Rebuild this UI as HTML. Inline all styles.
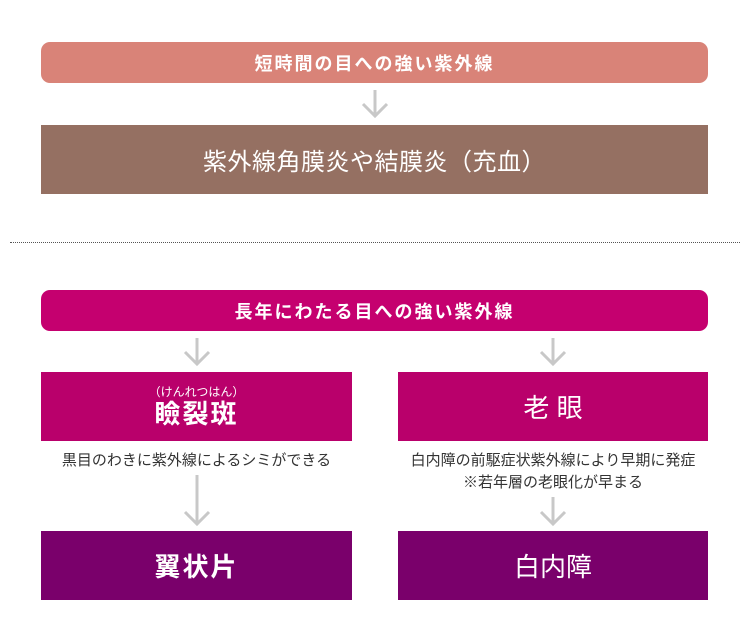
<!DOCTYPE html>
<html><head><meta charset="utf-8"><style>
body{margin:0;width:750px;height:632px;background:#fff;position:relative;overflow:hidden;font-family:"Liberation Sans","Noto Sans CJK JP",sans-serif;}
.b{position:absolute;color:#fff;display:flex;align-items:center;justify-content:center;font-weight:bold;}
.t{position:absolute;color:#333;font-size:15px;text-align:center;line-height:22px;}
svg{position:absolute;left:0;top:0}
</style></head><body>
<div class="b" style="left:41px;top:42px;width:667px;height:41px;background:#d98378;border-radius:9px;font-size:18px;letter-spacing:2px;">短時間の目への強い紫外線</div>
<div class="b" style="left:41px;top:125px;width:667px;height:69px;background:#957062;font-size:24px;font-weight:normal;letter-spacing:0.5px;">紫外線角膜炎や結膜炎（充血）</div>
<div style="position:absolute;left:10px;top:242px;width:730px;border-top:1px dotted #555;"></div>
<div class="b" style="left:41px;top:290px;width:667px;height:41px;background:#c5006f;border-radius:9px;font-size:18px;letter-spacing:2px;">長年にわたる目への強い紫外線</div>
<div class="b" style="left:41px;top:372px;width:311px;height:69px;background:#b9006b;flex-direction:column;">
<div style="font-size:12px;font-weight:normal;line-height:13px;margin-top:2px">（けんれつはん）</div><div style="font-size:26px;line-height:30px;letter-spacing:2px">瞼裂斑</div></div>
<div class="b" style="left:398px;top:372px;width:310px;height:69px;background:#b9006b;font-size:26px;font-weight:normal;">老&nbsp;眼</div>
<div class="t" style="left:41px;top:450px;width:311px;">黒目のわきに紫外線によるシミができる</div>
<div class="t" style="left:398px;top:450px;width:310px;">白内障の前駆症状紫外線により早期に発症<br>※若年層の老眼化が早まる</div>
<div class="b" style="left:41px;top:531px;width:311px;height:69px;background:#7a006b;font-size:26px;letter-spacing:2px;">翼状片</div>
<div class="b" style="left:398px;top:531px;width:310px;height:69px;background:#7a006b;font-size:26px;font-weight:normal;">白内障</div>
<svg width="750" height="632" fill="none" stroke="#c8c8c8" stroke-width="3">
<path d="M375 90V116M363 104L375 116L387 104"/>
<path d="M197 338V364M185 352L197 364L209 352"/>
<path d="M553 338V364M541 352L553 364L565 352"/>
<path d="M197 475V524M185 512L197 524L209 512"/>
<path d="M553 497V524M541 512L553 524L565 512"/>
</svg>
</body></html>
